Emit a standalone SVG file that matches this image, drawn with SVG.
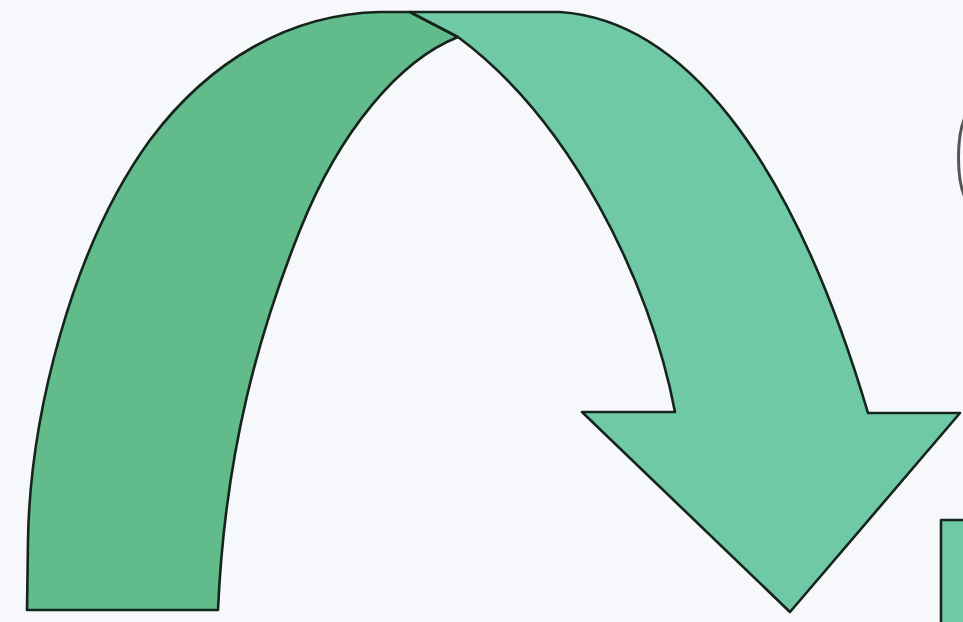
<svg xmlns="http://www.w3.org/2000/svg" width="963" height="622" viewBox="0 0 963 622">
  <style>
    .edge { stroke: #15241c; stroke-width: 2.6; stroke-linejoin: round; }
    .bandA { fill: #61bb8b; }
    .bandB { fill: #6fc9a6; }
  </style>
  <rect x="0" y="0" width="963" height="622" fill="#f6f8fc"/>
  <g id="arrow-left-band">
    <path class="bandA edge" d="M27,610 L28,540 C30,420 70,250 150,140 C210,60 290,14 380,12 L410,12 L458,37 C400,60 340,130 300,230 C260,330 225,450 218,610 Z"/>
  </g>
  <g id="arrow-right-band">
    <path class="bandB edge" d="M410,12 L560,12 C680,20 790,150 868,413 L960,413 L790,612 L582,412 L675,412 C650,280 570,120 458,37 Z"/>
  </g>
  <g id="partial-box">
    <rect class="bandB edge" x="941" y="520" width="40" height="120"/>
  </g>
  <g id="partial-mark">
    <path d="M966,115 C956,135 956,180 966,200" fill="none" stroke="#555" stroke-width="3"/>
  </g>
  <g id="connectors"></g>
</svg>
